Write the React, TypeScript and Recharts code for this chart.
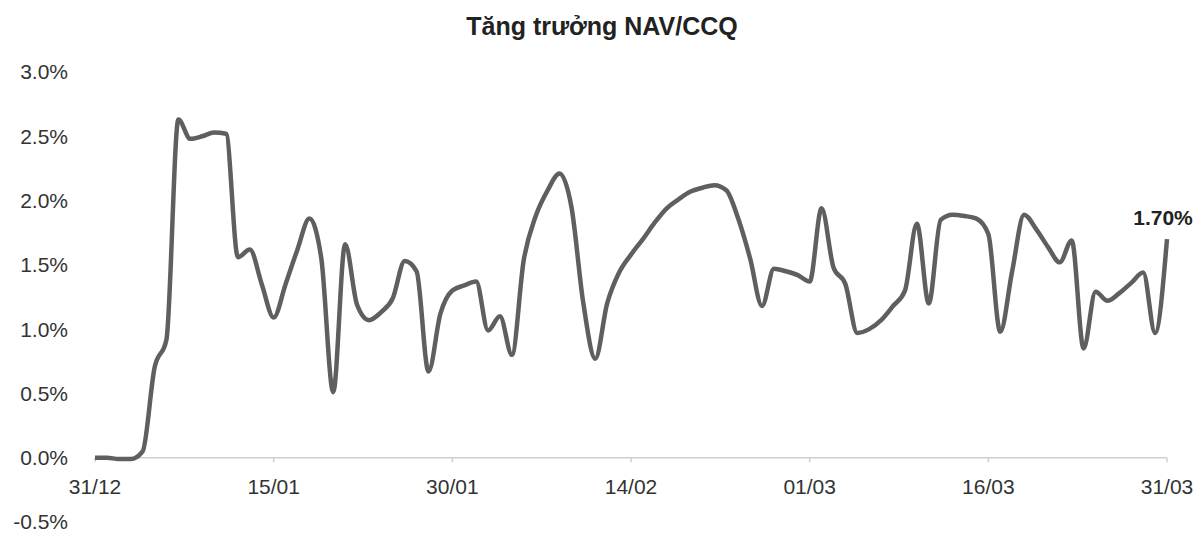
import React from "react";
import { LineChart, Line, XAxis, YAxis, ReferenceLine } from "recharts";

const title = "Tăng trưởng NAV/CCQ";
const days = [
  0, 1, 2, 3, 4, 5, 6, 7, 8, 9, 10, 11, 12, 13, 14, 15, 16, 17, 18, 19, 20,
  21, 22, 23, 24, 25, 26, 27, 28, 29, 30, 31, 32, 33, 34, 35, 36, 37, 38, 39, 40,
  41, 42, 43, 44, 45, 46, 47, 48, 49, 50, 51, 52, 53, 54, 55, 56, 57, 58, 59, 60,
  61, 62, 63, 64, 65, 66, 67, 68, 69, 70, 71, 72, 73, 74, 75, 76, 77, 78, 79, 80,
  81, 82, 83, 84, 85, 86, 87, 88, 89, 90,
];
const navGrowth = [
  0.0, 0.0, -0.01, -0.01, 0.05, 0.7, 0.92, 2.63, 2.48, 2.5, 2.53, 2.52, 1.56, 1.62, 1.35, 1.09, 1.35, 1.62, 1.86, 1.55, 0.51,
  1.66, 1.19, 1.07, 1.13, 1.24, 1.53, 1.45, 0.67, 1.12, 1.3, 1.34, 1.37, 0.99, 1.1, 0.8, 1.54, 1.88, 2.08, 2.21, 1.95,
  1.2, 0.77, 1.2, 1.44, 1.58, 1.7, 1.83, 1.94, 2.01, 2.07, 2.1, 2.12, 2.08, 1.86, 1.55, 1.18, 1.47, 1.45, 1.42, 1.37,
  1.94, 1.48, 1.35, 0.97, 1.0, 1.07, 1.18, 1.3, 1.82, 1.2, 1.85, 1.89, 1.88, 1.86, 1.74, 0.98, 1.45, 1.89, 1.78, 1.64,
  1.52, 1.69, 0.85, 1.29, 1.22, 1.28, 1.36, 1.44, 0.97, 1.7,
];
const xTickDays = [0, 15, 30, 45, 60, 75, 90];
const xTickLabels = ["31/12", "15/01", "30/01", "14/02", "01/03", "16/03", "31/03"];
const yTicks = [-0.5, 0, 0.5, 1.0, 1.5, 2.0, 2.5, 3.0];
const lastLabel = "1.70%";

const data = days.map((d, i) => ({ day: d, value: navGrowth[i] }));

const FONT = "'Liberation Sans', Arial, sans-serif";

const XTick = (props: any) => {
  const { x, y, payload } = props;
  const idx = xTickDays.indexOf(payload.value);
  return (
    <text x={x} y={y} dy={-28} textAnchor="middle" fill="#333" fontSize={21} fontFamily={FONT}>
      {idx >= 0 ? xTickLabels[idx] : ""}
    </text>
  );
};

const EndLabel = (props: any) => {
  const { x, y, index } = props;
  if (index !== data.length - 1) return null;
  return (
    <text x={x - 4} y={y - 14} textAnchor="middle" fill="#222" fontSize={21} fontWeight="bold" fontFamily={FONT}>
      {lastLabel}
    </text>
  );
};

export default function App() {
  return (
    <div style={{ position: "relative", width: 1194, height: 526, background: "#fff", fontFamily: FONT }}>
      <div
        style={{
          position: "absolute",
          top: 5,
          left: 0,
          width: 1188,
          textAlign: "center",
          fontSize: 25,
          lineHeight: "26px",
          fontWeight: "bold",
          color: "#222",
        }}
      >
        {title}
      </div>
      <LineChart width={1194} height={526} data={data} margin={{ top: 64, right: 35, bottom: 0, left: 0 }}>
        <XAxis
          dataKey="day"
          type="number"
          domain={[0, 90]}
          ticks={xTickDays}
          axisLine={false}
          tickLine={false}
          tickSize={0}
          tickMargin={0}
          height={12}
          tick={<XTick />}
          interval={0}
        />
        <YAxis
          type="number"
          domain={[-0.5, 3]}
          ticks={yTicks}
          width={87}
          axisLine={false}
          tickLine={false}
          tickSize={0}
          tickMargin={27}
          tickFormatter={(v: number) => v.toFixed(1) + "%"}
          tick={{ fill: "#333", fontSize: 21, fontFamily: FONT }}
          interval={0}
        />
        <ReferenceLine y={0} stroke="#cfcfcf" strokeWidth={1.5} />
        {xTickDays.map((d) => (
          <ReferenceLine
            key={d}
            segment={[
              { x: d, y: 0 },
              { x: d, y: -0.035 },
            ]}
            stroke="#cfcfcf"
            strokeWidth={1.5}
          />
        ))}
        <Line
          type="monotone"
          dataKey="value"
          stroke="#5f5f5f"
          strokeWidth={4.5}
          dot={false}
          isAnimationActive={false}
          label={<EndLabel />}
        />
      </LineChart>
    </div>
  );
}
